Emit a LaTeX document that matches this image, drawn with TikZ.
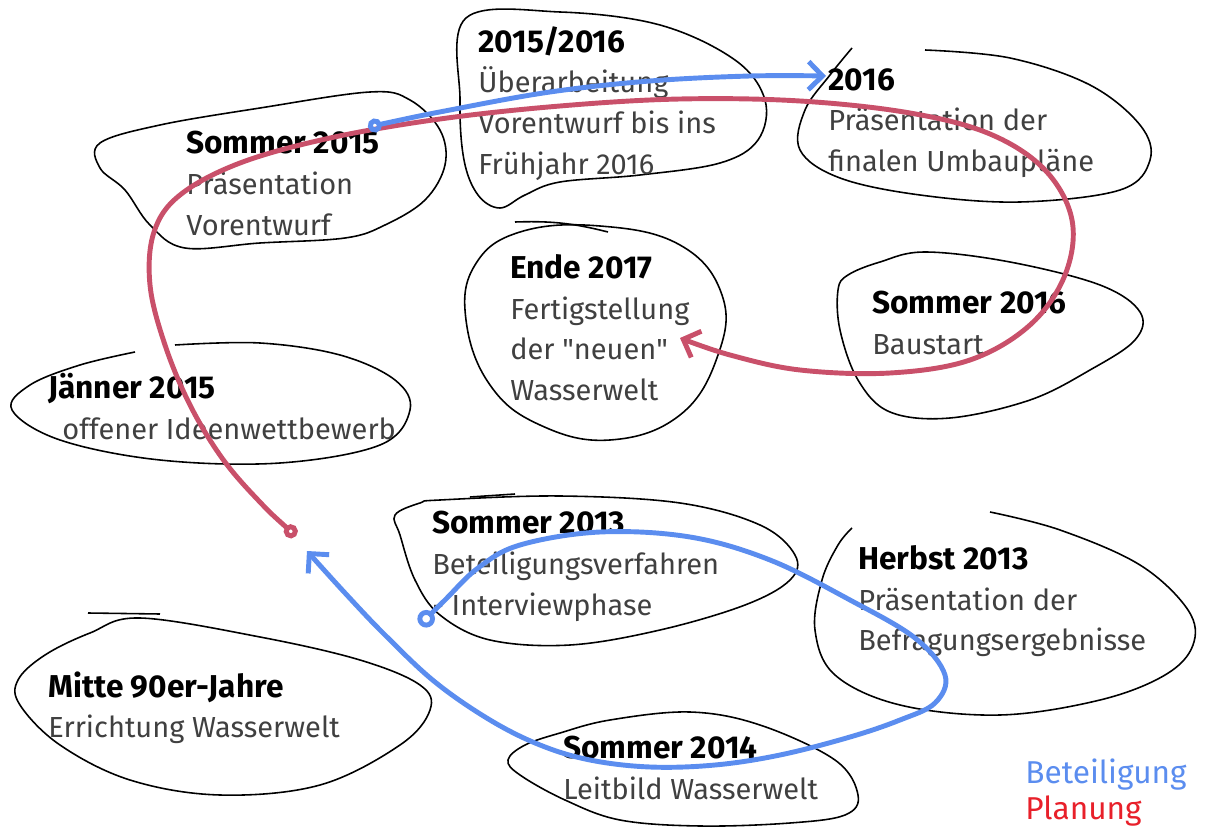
\documentclass[tikz,border=0pt]{standalone}
\usepackage{fontspec}
\setmainfont{Fira Sans}
\usetikzlibrary{arrows.meta}
\definecolor{partblue}{HTML}{5B8DEF}
\definecolor{planred}{HTML}{C9506A}
\definecolor{keyred}{HTML}{E8202A}
\newcommand{\when}[1]{{\color{black}\bfseries\fontsize{18}{23.2}\selectfont #1}}
\begin{document}
\begin{tikzpicture}[x=0.02cm, y=-0.02cm,
    blob/.style = {draw, line width=0.9pt},
    stage/.style = {anchor=north west, inner sep=0pt, align=left, text=black!75, font=\fontsize{16.5}{23.2}\selectfont},
    part/.style = {draw=partblue, line width=2.8pt, line cap=round},
    plan/.style = {draw=planred, line width=2.8pt, line cap=round}]

	\useasboundingbox (0,0) rectangle (1210,827);

	% blobs
	\draw[blob] plot[smooth cycle, tension=0.6] coordinates {(466,18) (560,12) (660,25) (735,60) (765,100) (758,140) (720,163) (640,175) (560,182) (525,195) (500,208) (478,195) (464,160) (460,100)};
	\draw[blob] plot[smooth, tension=0.6] coordinates {(925,50) (1010,58) (1090,85) (1140,125) (1150,160) (1120,190) (1020,202) (920,195) (840,178) (800,150) (805,110) (830,75) (852,48)};
	\draw[blob] plot[smooth cycle, tension=0.6] coordinates {(100,143) (160,125) (260,108) (370,92) (410,100) (440,130) (445,165) (425,200) (385,225) (345,238) (260,243) (185,248) (150,225) (125,190) (100,168)};
	\draw[blob] plot[smooth cycle, tension=0.7] coordinates {(600,226) (680,245) (722,295) (718,355) (680,415) (610,440) (540,425) (490,385) (466,320) (475,265) (520,232)};
	\draw[blob] (515,222) to[bend left=8] (608,232);
	\draw[blob] plot[smooth cycle, tension=0.6] coordinates {(848,275) (880,262) (925,252) (1010,262) (1100,285) (1140,312) (1135,340) (1090,370) (1030,400) (950,418) (890,412) (858,380) (840,330) (838,290)};
	\draw[blob] plot[smooth, tension=0.6] coordinates {(175,345) (260,343) (340,355) (395,380) (410,410) (380,445) (280,463) (160,460) (60,440) (12,410) (30,385) (80,365) (135,352)};
	\draw[blob] (470,497) -- (515,494);
	\draw[blob] plot[smooth cycle, tension=0.6] coordinates {(440,500) (560,496) (680,503) (760,525) (795,555) (790,580) (745,605) (660,630) (570,645) (490,640) (440,615) (415,580) (400,535) (395,515) (420,503)};
	\draw[blob] plot[smooth, tension=0.6] coordinates {(990,512) (1060,530) (1140,565) (1188,610) (1193,645) (1165,675) (1100,700) (1000,715) (900,705) (835,675) (815,630) (822,580) (838,545) (852,528)};
	\draw[blob] (88,613) -- (160,614);
	\draw[blob] plot[smooth cycle, tension=0.6] coordinates {(140,618) (260,637) (360,660) (420,685) (430,710) (400,745) (320,785) (220,795) (130,780) (60,745) (20,705) (18,680) (45,655) (90,633)};
	\draw[blob] plot[smooth cycle, tension=0.6] coordinates {(560,733) (610,720) (690,712) (760,725) (835,760) (858,795) (845,815) (790,823) (700,826) (620,820) (565,800) (520,775) (508,760) (525,745)};

	% texts
	\node[stage] (uebe) at (478,26) {\when{2015/2016}\\Überarbeitung\\Vorentwurf bis ins\\Frühjahr 2016};
	\node[stage] (fin) at (828,68) {\when{2016}\\Präsentation der\\finalen Umbaupläne};
	\node[stage] (vor) at (186,131) {\when{Sommer 2015}\\Präsentation\\Vorentwurf};
	\node[stage] (ende) at (510,254) {\when{Ende 2017}\\Fertigstellung\\der \textquotedbl neuen\textquotedbl\\Wasserwelt};
	\node[stage] (bau) at (872,291) {\when{Sommer 2016}\\Baustart};
	\node[stage] (idee) at (48,373) {\when{Jänner 2015}\\\hspace*{8pt}offener Ideenwettbewerb};
	\node[stage] (inter) at (432,511) {\when{Sommer 2013}\\Beteiligungsverfahren\\- Interviewphase};
	\node[stage] (befr) at (858,545) {\when{Herbst 2013}\\Präsentation der\\Befragungsergebnisse};
	\node[stage] (err) at (48,671) {\when{Mitte 90er-Jahre}\\Errichtung Wasserwelt};
	\node[stage] (leit) at (563,736) {\when{Sommer 2014}\\Leitbild Wasserwelt};

	\node[stage, text=partblue, font=\fontsize{18}{23.2}\selectfont] (keyb) at (1025,758) {Beteiligung};
	\node[stage, text=keyred, font=\fontsize{18}{23.2}\selectfont] (keyp) at (1025,795) {Planung};

	% connectors
	\coordinate (plan0) at (296,536);
	\coordinate (plan1) at (680,338);
	\coordinate (part0) at (368,127);
	\coordinate (part1) at (826,76);
	\coordinate (part2) at (420,625);
	\coordinate (part3) at (307,551);

	\draw[plan, {Circle[open,length=8pt]}-{Straight Barb[length=8pt]}] plot[smooth, tension=0.6] coordinates {(plan0) (258,500) (222,458) (190,405) (165,345) (150,285) (154,232) (180,195) (240,163) (330,138) (440,119) (560,106) (680,99) (800,101) (910,113) (990,134) (1045,170) (1072,220) (1065,275) (1030,325) (970,360) (890,373) (800,370) (730,355) (plan1)};
	\draw[part, {Circle[open,length=8pt]}-{Straight Barb[length=8pt]}] plot[smooth, tension=0.6] coordinates {(part0) (450,110) (550,92) (650,81) (750,76) (part1)};
	\draw[part, {Circle[open,length=10pt]}-{Straight Barb[length=8pt]}] plot[smooth, tension=0.6] coordinates {(part2) (445,600) (478,568) (520,545) (600,532) (690,537) (770,560) (850,600) (915,638) (945,675) (935,703) (900,720) (850,737) (780,755) (715,765) (650,767) (590,760) (540,745) (490,720) (435,682) (385,635) (345,593) (part3)};
\end{tikzpicture}
\end{document}
